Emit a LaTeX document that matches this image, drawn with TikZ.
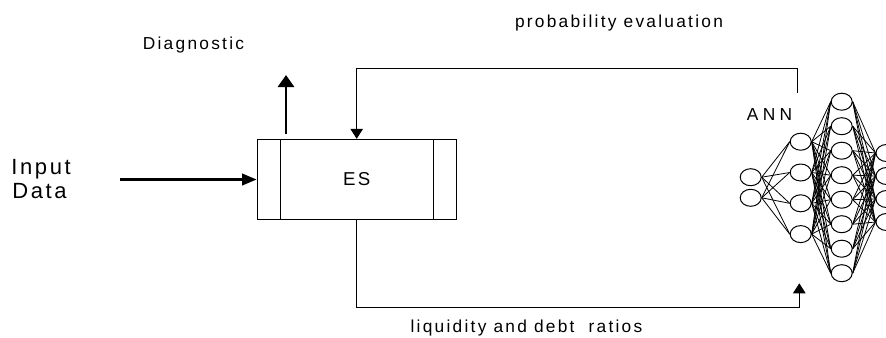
\documentclass[tikz,border=0pt]{standalone}
\usepackage{fontspec}
\setmainfont{Liberation Sans}
\newfontfamily\lsfont[LetterSpace=13]{Liberation Sans}
\newfontfamily\wideLSfont[LetterSpace=25]{Liberation Sans}
\newfontfamily\bigLSfont[LetterSpace=12]{Liberation Sans}
\usetikzlibrary{arrows.meta,shapes.geometric}
\begin{document}
\begin{tikzpicture}[x=0.75pt,y=-0.75pt,
  lbl/.style={font=\lsfont\fontsize{13}{15}\selectfont, inner sep=0},
  annlbl/.style={font=\wideLSfont\fontsize{13}{15}\selectfont, inner sep=0},
  big/.style={font=\bigLSfont\fontsize{16.5}{19}\selectfont, inner sep=0},
  thinline/.style={line width=0.75pt},
  thinarrow/.style={line width=0.75pt, -{Triangle[length=7.5pt,width=9.4pt]}},
  fatarrow/.style={line width=2.2pt, -{Triangle[length=11pt,width=8.5pt]}},
  fatuparrow/.style={line width=2.2pt, -{Triangle[length=9pt,width=12pt]}},
  neuron/.style={ellipse, draw, line width=0.75pt, minimum width=15.75pt, minimum height=12.75pt, inner sep=0},
  wire/.style={line width=0.6pt},
  esbox/.style={draw, line width=0.75pt, minimum width=149.25pt, minimum height=60.3pt, inner sep=0, font=\bigLSfont\fontsize{14}{16}\selectfont}
]
\clip (0,0) rectangle (886,337);

% ES box
\node[esbox] (es) at (356.7,179.5) {ES};
\draw[thinline] ([xshift=18pt]es.north west) -- ([xshift=18pt]es.south west);
\draw[thinline] ([xshift=-17.5pt]es.north east) -- ([xshift=-17.5pt]es.south east);

% Input data
\node[big, anchor=base west] (inp1) at (11,174) {Input};
\node[big, anchor=base west] (inp2) at (12,198.3) {Data};
\coordinate (inpstart) at (120,179.5);
\draw[fatarrow] (inpstart) -- (es.west);

% Diagnostic
\node[lbl, anchor=base] (diag) at (193.5,49) {Diagnostic};
\coordinate (dstart) at (286,134);
\coordinate (dend) at (286,75);
\draw[fatuparrow] (dstart) -- (dend);

% labels
\node[lbl, anchor=base] (prob) at (619,27.3) {probability evaluation};
\node[lbl, anchor=base] (liq) at (526.5,332.5) {liquidity and debt\ \ ratios};
\node[annlbl, anchor=base west] (ann) at (746.7,120) {ANN};

% neural network
\node[neuron] (a1) at (750.7,177.2) {};
\node[neuron] (a2) at (750.7,197.8) {};
\foreach \i in {1,...,4} \node[neuron] (b\i) at (800.7,{141.7+30.8*(\i-1)}) {};
\foreach \i in {1,...,8} \node[neuron] (c\i) at (841.7,{101.7+24.5*(\i-1)}) {};
\foreach \i in {1,...,4} \node[neuron] (d\i) at (886.5,{153+23*(\i-1)}) {};
\foreach \i in {1,2} \foreach \j in {1,...,4} \draw[wire] (a\i.east) -- (b\j.west);
\foreach \i in {1,...,4} \foreach \j in {1,...,8} \draw[wire] (b\i.east) -- (c\j.west);
\foreach \i in {1,...,8} \foreach \j in {1,...,4} \draw[wire] (c\i.east) -- (d\j.west);

% feedback loops
\coordinate (annout) at (797.7,92.7);
\coordinate (fbtop) at (797.7,68.3);
\draw[thinarrow] (annout) -- (fbtop) -| (es.north);
\coordinate (fbbot) at (356.7,307.3);
\coordinate (annin) at (799.3,283.3);
\draw[thinarrow] (es.south) -- (fbbot) -| (annin);
\end{tikzpicture}
\end{document}
